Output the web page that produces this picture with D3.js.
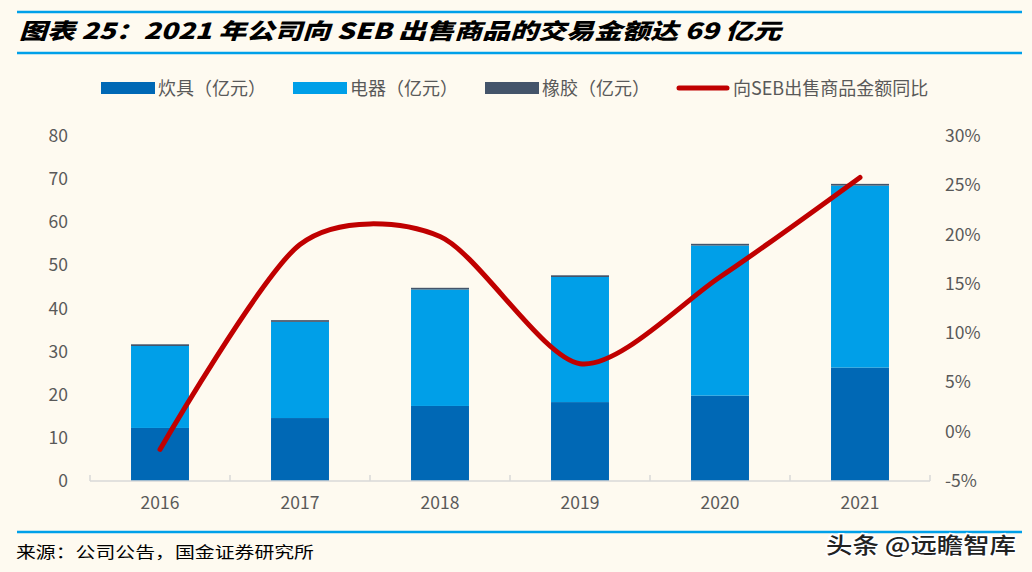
<!DOCTYPE html>
<html><head><meta charset="utf-8">
<script src="https://cdn.jsdelivr.net/npm/d3@7"></script>
<style>
html,body{margin:0;padding:0;background:#FEFAF0;}
svg{display:block;}
text{font-family:"Noto Sans CJK SC","Noto Sans",sans-serif;}
</style></head>
<body>
<svg id="c" width="1032" height="572"></svg>
<script>
const years = ["2016","2017","2018","2019","2020","2021"];
const cookware = [12.3, 14.6, 17.4, 18.3, 19.8, 26.3];
const appliances = [19.0, 22.3, 27.0, 29.0, 34.8, 42.2];
const rubber = [0.4, 0.4, 0.4, 0.4, 0.4, 0.4];
const yoy = [-1.8, 19.0, 19.8, 6.9, 15.7, 25.8];
const leftTicks = [0,10,20,30,40,50,60,70,80];
const rightTicks = [-5,0,5,10,15,20,25,30];
const seriesNames = ["炊具（亿元）","电器（亿元）","橡胶（亿元）","向SEB出售商品金额同比"];
const colors = ["#0068B5","#009FE8","#44546A","#C00000"];
const title = "图表 25：2021 年公司向 SEB 出售商品的交易金额达 69 亿元";
const source = "来源：公司公告，国金证券研究所";
const watermark = "头条 @远瞻智库";

const svg = d3.select("#c");
svg.append("rect").attr("width",1032).attr("height",572).attr("fill","#FEFAF0");

// header lines & title
svg.append("line").attr("x1",17).attr("x2",1022).attr("y1",12).attr("y2",12).attr("stroke","#00A0E9").attr("stroke-width",2.5);
svg.append("line").attr("x1",17).attr("x2",1022).attr("y1",53).attr("y2",53).attr("stroke","#00A0E9").attr("stroke-width",2.5);
svg.append("text").attr("x",19).attr("y",39).text(title)
  .attr("font-size",22).attr("font-weight",900).attr("font-style","italic").attr("fill","#000")
  .attr("textLength",762).attr("lengthAdjust","spacingAndGlyphs");

const x = d3.scaleBand().domain(years).range([90,930]).paddingInner(0.586).paddingOuter(0.293);
const y = d3.scaleLinear().domain([0,80]).range([481,136]);
const y2 = d3.scaleLinear().domain([-5,30]).range([481,136]);

// stacked bars
const rows = years.map((yr,i)=>({year:yr, c:cookware[i], a:appliances[i], r:rubber[i]}));
const stack = d3.stack().keys(["c","a","r"])(rows);
stack.forEach((layer,li)=>{
  svg.append("g").selectAll("rect").data(layer).join("rect")
    .attr("x",d=>x(d.data.year)).attr("width",x.bandwidth())
    .attr("y",d=>y(d[1])).attr("height",d=>y(d[0])-y(d[1]))
    .attr("fill",colors[li]);
});

// x axis
const xa = svg.append("g").attr("transform","translate(0,481)");
xa.append("line").attr("x1",90).attr("x2",930).attr("stroke","#D9D9D9").attr("stroke-width",1.5);
const tickXs = d3.range(years.length+1).map(i=>90+i*x.step());
xa.selectAll("line.t").data(tickXs).join("line").attr("class","t")
  .attr("x1",d=>d).attr("x2",d=>d).attr("y1",0).attr("y2",-6).attr("stroke","#D9D9D9").attr("stroke-width",1.5);
xa.selectAll("text").data(years).join("text")
  .attr("x",d=>x(d)+x.bandwidth()/2).attr("y",28).attr("text-anchor","middle")
  .attr("font-size",17.5).attr("fill","#595959").attr("font-family","Liberation Sans, Arial, sans-serif").text(d=>d);

// left axis labels
svg.append("g").selectAll("text").data(leftTicks).join("text")
  .attr("x",68).attr("y",d=>y(d)+6).attr("text-anchor","end")
  .attr("font-size",17.5).attr("fill","#595959").attr("font-family","Liberation Sans, Arial, sans-serif").text(d=>d);
// right axis labels
svg.append("g").selectAll("text").data(rightTicks).join("text")
  .attr("x",945).attr("y",d=>y2(d)+6).attr("text-anchor","start")
  .attr("font-size",17.5).attr("fill","#595959").attr("font-family","Liberation Sans, Arial, sans-serif").text(d=>d+"%");

// line
const line = d3.line().x((d,i)=>x(years[i])+x.bandwidth()/2).y(d=>y2(d)).curve(d3.curveCardinal.tension(0.2));
svg.append("path").datum(yoy).attr("d",line).attr("fill","none").attr("stroke",colors[3])
  .attr("stroke-width",5).attr("stroke-linecap","round").attr("stroke-linejoin","round");

// legend
const legX = [101,293,485,676];
const lg = svg.append("g");
seriesNames.forEach((n,i)=>{
  if(i<3){
    lg.append("rect").attr("x",legX[i]).attr("y",82).attr("width",54).attr("height",12).attr("fill",colors[i]);
  } else {
    lg.append("line").attr("x1",legX[i]+3).attr("x2",legX[i]+51).attr("y1",88).attr("y2",88)
      .attr("stroke",colors[i]).attr("stroke-width",5).attr("stroke-linecap","round");
  }
  lg.append("text").attr("x",legX[i]+57).attr("y",95).attr("font-size",18).attr("fill","#595959").text(n);
});

// footer
svg.append("line").attr("x1",17).attr("x2",1022).attr("y1",532).attr("y2",532).attr("stroke","#00A0E9").attr("stroke-width",2.5);
svg.append("text").attr("x",16).attr("y",558).attr("font-size",16).attr("fill","#000").text(source)
  .attr("textLength",298).attr("lengthAdjust","spacingAndGlyphs");
svg.append("text").attr("x",826).attr("y",553).attr("font-size",22).attr("fill","#222").attr("font-weight",500)
  .attr("stroke","#fff").attr("stroke-width",3).attr("paint-order","stroke").text(watermark)
  .attr("textLength",190).attr("lengthAdjust","spacingAndGlyphs");
</script>
</body></html>
